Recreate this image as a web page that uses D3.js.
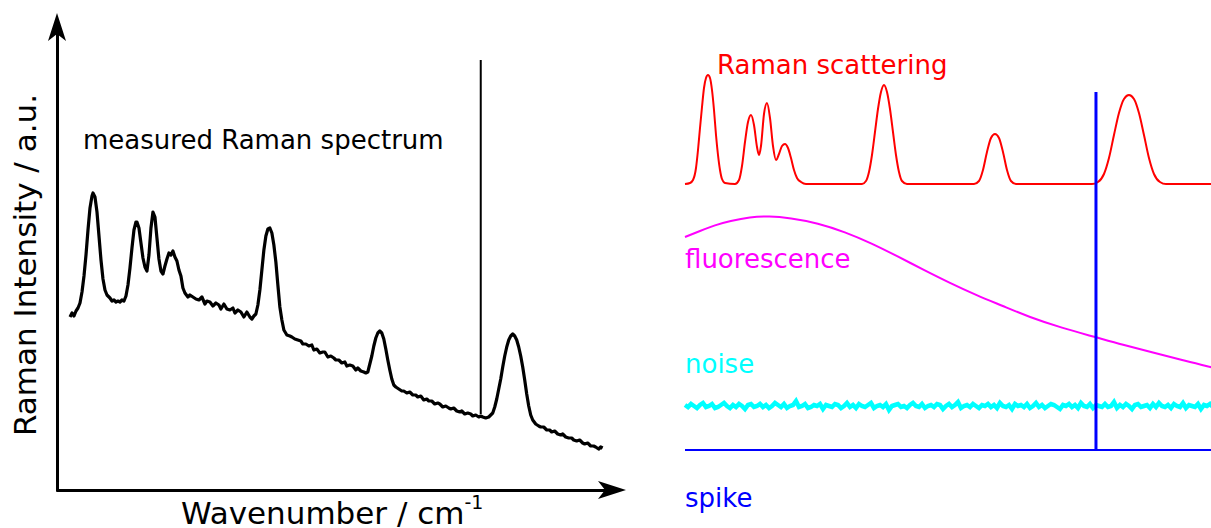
<!DOCTYPE html>
<html>
<head>
<meta charset="utf-8">
<script src="https://cdn.jsdelivr.net/npm/d3@7"></script>
<style>
	body { margin: 0; background: #fff; }
	svg text { font-family: "DejaVu Sans", Verdana, sans-serif; }
</style>
</head>
<body>
<div id="chart"></div>
<script>
// measured spectrum: [raman shift, intensity]
let measuredSpectrum = [
	[200,173],[206,177],[212,174],[218,179],[224,182],[230,187],[236,198],[242,214],[248,235],[254,260],
	[260,282],[266,294],[269,297],[275,293],[281,278],[287,254],[293,230],[299,211],[305,200],[311,195],
	[320,192],[326,189],[332,190],[338,188],[344,189],[350,188],[356,190],[362,189],[368,194],[374,205],
	[380,222],[386,242],[392,260],[398,268],[401,268],[407,262],[413,247],[419,232],[425,223],[431,219],
	[437,235],[443,262],[449,278],[455,273],[461,252],[467,231],[473,219],[479,216],[485,224],[491,231],
	[497,237],[503,235],[509,239],[515,233],[521,229],[527,220],[533,214],[539,202],[545,197],[554,193],
	[560,195],[569,193],[578,191],[587,190],[596,193],[605,186],[611,189],[620,188],[629,184],[638,187],
	[647,185],[653,181],[662,186],[671,181],[680,180],[689,182],[695,177],[704,180],[713,178],[722,173],
	[731,178],[740,173],[746,171],[752,174],[758,176],[764,185],[770,200],[776,220],[782,240],[788,254],
	[794,261],[800,262],[806,257],[812,245],[818,228],[824,205],[830,183],[836,170],[842,160],[851,155],
	[860,154],[866,153],[875,151],[884,150],[893,149],[899,146],[908,146],[917,144],[926,145],[932,140],
	[941,141],[950,137],[959,138],[965,138],[974,133],[983,134],[992,132],[998,130],[1007,130],[1016,127],
	[1025,128],[1031,124],[1040,125],[1049,124],[1058,120],[1064,122],[1073,119],[1082,118],[1088,117],[1094,118],
	[1100,126],[1106,134],[1112,144],[1118,152],[1124,157],[1130,159],[1136,157],[1142,151],[1148,141],[1154,130],
	[1160,120],[1166,111],[1172,105],[1178,103],[1187,101],[1196,99],[1202,99],[1211,97],[1220,98],[1229,95],
	[1238,95],[1244,93],[1253,94],[1262,90],[1271,91],[1277,89],[1286,89],[1295,86],[1304,87],[1310,86],
	[1319,83],[1328,84],[1337,82],[1343,81],[1352,82],[1361,79],[1370,78],[1376,79],[1385,76],[1394,77],
	[1403,76],[1409,74],[1418,75],[1427,73],[1433,74],[1439,73],[1448,72],[1457,73],[1463,75],[1469,77],
	[1475,83],[1481,91],[1487,101],[1493,111],[1499,123],[1505,134],[1511,143],[1517,150],[1523,154],[1529,156],
	[1535,154],[1541,150],[1547,143],[1553,134],[1559,123],[1565,110],[1571,96],[1577,84],[1583,75],[1589,70],
	[1598,66],[1607,64],[1613,63],[1622,63],[1631,60],[1640,60],[1646,58],[1655,59],[1664,56],[1673,55],
	[1679,56],[1688,53],[1697,52],[1706,52],[1712,50],[1721,49],[1730,50],[1739,47],[1745,46],[1754,47],
	[1763,44],[1772,44],[1778,43],[1787,41],[1793,43],[1799,42]
];
let measuredSpikeShift = 1433;
let measuredSpikeTop = 430;

// components
let ramanScattering = [
	[200,0],[215,1],[224,4],[233,16],[239,34],[245,56],[251,77],[257,96],[263,106],[269,109],
	[275,106],[281,94],[287,74],[293,49],[299,29],[305,14],[311,5],[320,1],[350,0],[362,4],
	[371,18],[380,42],[389,62],[398,69],[407,59],[416,37],[422,29],[428,38],[437,70],[446,81],
	[455,66],[464,38],[473,24],[482,30],[491,38],[500,40],[509,36],[518,26],[527,14],[536,6],
	[548,2],[563,0],[731,0],[743,3],[752,12],[761,29],[770,52],[779,75],[788,92],[797,99],
	[806,92],[815,75],[824,52],[833,29],[842,12],[851,3],[866,0],[1067,0],[1082,3],[1094,14],
	[1106,32],[1118,46],[1130,50],[1142,46],[1154,32],[1166,14],[1178,3],[1193,0],[1421,0],[1439,2],
	[1457,10],[1472,26],[1487,49],[1502,71],[1517,85],[1532,89],[1547,85],[1562,71],[1577,49],[1592,26],
	[1607,10],[1625,2],[1643,0],[1800,0]
];
let fluorescence = [
	[200,153],[245,159],[290,165],[335,169],[395,173],[452,174],[515,172],[599,167],[680,158],[758,147],
	[836,134],[917,120],[995,107],[1073,95],[1154,84],[1232,73],[1331,62],[1430,53],[1514,45],[1601,38],
	[1688,30],[1778,23],[1800,21]
];
let noiseStart = 200;
let noiseStep = 9;
let noise = [
	1,-1,2,0,-2,1,3,-1,0,2,-2,-1,1,3,0,-2,1,-1,2,0,
	-3,1,2,-1,0,2,-1,1,-2,0,3,1,-1,2,-2,0,1,5,-1,0,
	2,-2,-1,1,0,2,-3,1,0,-1,2,1,-2,0,3,-1,1,-2,2,0,
	-1,1,3,-2,0,1,-1,2,-4,0,1,2,-1,0,-2,1,3,0,-1,2,
	-2,0,1,-1,2,1,-3,0,2,-1,1,4,-2,0,1,-1,2,0,-2,1,
	0,2,-1,1,-2,3,0,-1,1,-3,2,0,1,-1,2,-2,0,3,-1,1,
	-2,0,2,1,-1,-3,1,0,2,-1,1,-2,3,0,-1,2,-2,1,0,-1,
	2,-1,0,4,-2,1,-1,2,0,-3,1,2,-1,0,1,-2,2,-1,3,0,
	-1,1,-2,2,0,-1,3,-2,1,0,-1,2,-3,1,0,2,-1,1
];
let spikeShift = 1433;
let spikeHeight = 358;

let labels = {
	measured: "measured Raman spectrum",
	yAxis: "Raman Intensity / a.u.",
	xAxis: "Wavenumber / cm",
	raman: "Raman scattering",
	fluorescence: "fluorescence",
	noise: "noise",
	spike: "spike"
};

let svg;
let xLeft, yLeft, xRight;

//
//	initD3
//
//
initD3 = function () {
	svg = d3
		.select("#chart")
		.append("svg")
		.attr("width", 1211)
		.attr("height", 528);

	xLeft = d3.scaleLinear().domain([200, 1800]).range([70, 603]);
	yLeft = d3.scaleLinear().domain([0, 430]).range([490, 60]);
	xRight = d3.scaleLinear().domain([200, 1800]).range([685, 1218.3]);
};

//
//	componentScale
//	 every component shares the amplitude, only the baseline moves
//
componentScale = function (base) {
	return d3.scaleLinear().domain([0, 100]).range([base, base - 100]);
};

//
//	drawAxes
//
//
drawAxes = function () {
	let g = svg.append("g");

	let xAxisScale = d3.scaleLinear().domain([0, 1]).range([56, 610]);
	g.append("g")
		.attr("transform", "translate(0,490)")
		.call(d3.axisBottom(xAxisScale).tickValues([]).tickSizeOuter(0))
		.select(".domain")
		.attr("stroke", "#000")
		.attr("stroke-width", 3);

	let yAxisScale = d3.scaleLinear().domain([0, 1]).range([491, 30]);
	g.append("g")
		.attr("transform", "translate(57,0)")
		.call(d3.axisLeft(yAxisScale).tickValues([]).tickSizeOuter(0))
		.select(".domain")
		.attr("stroke", "#000")
		.attr("stroke-width", 3);

	// arrow heads
	g.append("path")
		.attr("d", "M57,13 L66,41 L57,34 L48,41 Z")
		.attr("fill", "#000");
	g.append("path")
		.attr("d", "M626,490 L598,499 L605,490 L598,481 Z")
		.attr("fill", "#000");

	g.append("text")
		.attr("transform", "translate(36,265) rotate(-90)")
		.attr("text-anchor", "middle")
		.attr("font-size", 31)
		.attr("fill", "#000")
		.text(labels.yAxis);

	let xl = g.append("text")
		.attr("x", 181)
		.attr("y", 524)
		.attr("font-size", 31)
		.attr("fill", "#000");
	xl.append("tspan").text(labels.xAxis);
	xl.append("tspan")
		.attr("font-size", 19)
		.attr("dy", -15)
		.text("-1");
};

//
//	drawMeasured
//
//
drawMeasured = function () {
	let line = d3
		.line()
		.x((d) => xLeft(d[0]))
		.y((d) => yLeft(d[1]));

	svg.append("line")
		.attr("x1", xLeft(measuredSpikeShift))
		.attr("x2", xLeft(measuredSpikeShift))
		.attr("y1", yLeft(measuredSpikeTop))
		.attr("y2", yLeft(76))
		.attr("stroke", "#000")
		.attr("stroke-width", 2);

	svg.append("path")
		.datum(measuredSpectrum)
		.attr("d", line)
		.attr("fill", "none")
		.attr("stroke", "#000")
		.attr("stroke-width", 3.2)
		.attr("stroke-linejoin", "round");

	svg.append("text")
		.attr("x", 83)
		.attr("y", 149)
		.attr("font-size", 26)
		.attr("fill", "#000")
		.text(labels.measured);
};

//
//	drawComponents
//
//
drawComponents = function () {
	let yRaman = componentScale(184);
	let yFluo = componentScale(390);
	let yNoise = componentScale(406);
	let ySpike = componentScale(450);

	svg.append("path")
		.datum(ramanScattering)
		.attr("d", d3.line().curve(d3.curveMonotoneX).x((d) => xRight(d[0])).y((d) => yRaman(d[1])))
		.attr("fill", "none")
		.attr("stroke", "#ff0000")
		.attr("stroke-width", 2);

	svg.append("path")
		.datum(fluorescence)
		.attr("d", d3.line().curve(d3.curveBasis).x((d) => xRight(d[0])).y((d) => yFluo(d[1])))
		.attr("fill", "none")
		.attr("stroke", "#ff00ff")
		.attr("stroke-width", 2);

	svg.append("path")
		.datum(noise)
		.attr("d", d3.line().x((d, i) => xRight(noiseStart + i * noiseStep)).y((d) => yNoise(d)))
		.attr("fill", "none")
		.attr("stroke", "#00ffff")
		.attr("stroke-width", 4.5);

	// spike: flat baseline plus one single-channel event
	svg.append("line")
		.attr("x1", xRight(200))
		.attr("x2", xRight(1800))
		.attr("y1", ySpike(0))
		.attr("y2", ySpike(0))
		.attr("stroke", "#0000ff")
		.attr("stroke-width", 2);
	svg.append("line")
		.attr("x1", xRight(spikeShift))
		.attr("x2", xRight(spikeShift))
		.attr("y1", ySpike(0))
		.attr("y2", ySpike(spikeHeight))
		.attr("stroke", "#0000ff")
		.attr("stroke-width", 3);

	let texts = [
		{ t: labels.raman, x: 717, y: 74, c: "#ff0000" },
		{ t: labels.fluorescence, x: 685, y: 268, c: "#ff00ff" },
		{ t: labels.noise, x: 685, y: 373, c: "#00ffff" },
		{ t: labels.spike, x: 685, y: 507, c: "#0000ff" },
	];
	svg.selectAll("text.comp")
		.data(texts)
		.enter()
		.append("text")
		.attr("class", "comp")
		.attr("x", (d) => d.x)
		.attr("y", (d) => d.y)
		.attr("font-size", 26)
		.attr("fill", (d) => d.c)
		.text((d) => d.t);
};

initD3();
drawAxes();
drawMeasured();
drawComponents();
</script>
</body>
</html>
